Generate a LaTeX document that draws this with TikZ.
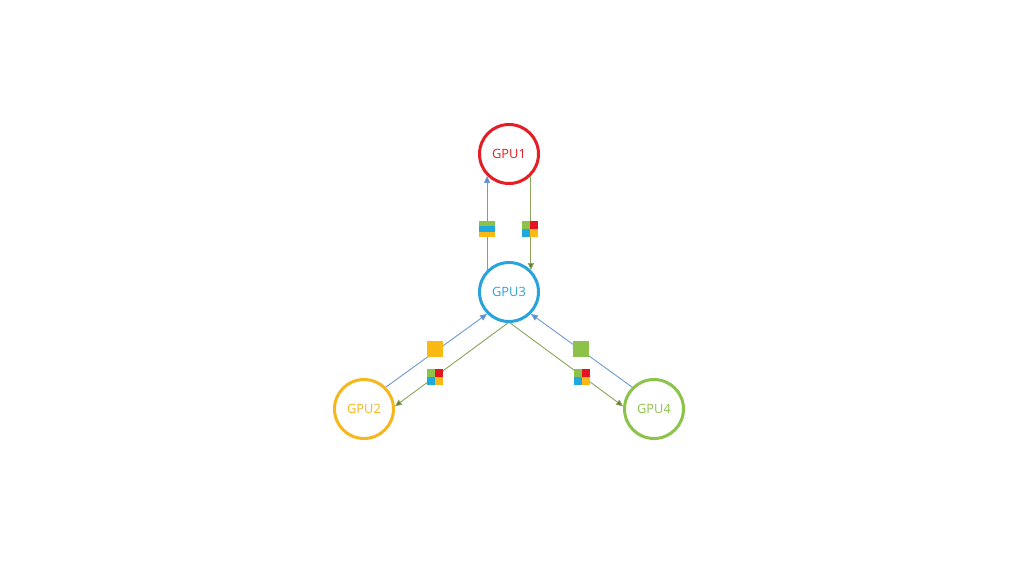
\documentclass[tikz,border=0pt]{standalone}
\usepackage{fontspec}
\setmainfont{Open Sans}
\usetikzlibrary{arrows.meta}
\definecolor{cred}{RGB}{228,30,36}
\definecolor{cblu}{RGB}{41,163,220}
\definecolor{cyel}{RGB}{245,183,30}
\definecolor{cgrn}{RGB}{140,195,75}
\definecolor{lblu}{RGB}{110,155,210}
\definecolor{lolv}{RGB}{140,165,90}
\definecolor{aolv}{RGB}{85,125,45}
\definecolor{ablu}{RGB}{90,140,210}
\definecolor{ig}{RGB}{140,193,74}
\definecolor{ib}{RGB}{30,170,225}
\definecolor{iy}{RGB}{250,185,20}
\definecolor{ir}{RGB}{230,20,30}
\tikzset{
  gpu/.style={circle, draw=#1, line width=3pt, minimum size=59pt, inner sep=0pt,
    text=#1, font=\fontsize{12.8}{15}\selectfont},
  up/.style={draw=lblu, line width=0.9pt, -{Triangle[length=7pt,width=6pt,fill=ablu]}},
  down/.style={draw=lolv, line width=0.9pt, -{Triangle[length=7pt,width=6pt,fill=aolv]}},
  icon/.style={rectangle, minimum size=16pt, inner sep=0pt},
  solid icon/.style={icon, fill=#1},
  quad/.style={icon, path picture={
    \fill[ig] (path picture bounding box.north west) rectangle (path picture bounding box.center);
    \fill[ir] (path picture bounding box.north east) rectangle (path picture bounding box.center);
    \fill[ib] (path picture bounding box.south west) rectangle (path picture bounding box.center);
    \fill[iy] (path picture bounding box.south east) rectangle (path picture bounding box.center);}},
  stripes/.style={icon, path picture={
    \fill[ig] (path picture bounding box.north west) rectangle ([yshift=-5.333pt]path picture bounding box.north east);
    \fill[ib] ([yshift=-5.333pt]path picture bounding box.north west) rectangle ([yshift=5.333pt]path picture bounding box.south east);
    \fill[iy] ([yshift=5.333pt]path picture bounding box.south west) rectangle (path picture bounding box.south east);}}
}
\begin{document}
\begin{tikzpicture}[x=1pt,y=-1pt]
\path[use as bounding box, fill=white] (0,0) rectangle (1024,576);
\node[gpu=cred] (g1) at (509,154) {GPU1};
\node[gpu=cblu] (g3) at (509,292) {GPU3};
\node[gpu=cyel] (g2) at (364,409) {GPU2};
\node[gpu=cgrn] (g4) at (654,409) {GPU4};
\draw[up] (g3.135) -- (g1.225);
\draw[down] (g1.-45) -- (g3.45);
\draw[up] (g2.45) -- (g3.-135);
\draw[down] (g3.-92) -- (g2.5);
\draw[up] (g4.135) -- (g3.-45);
\draw[down] (g3.-88) -- (g4.175);
\node[stripes] (s1) at (487,229) {};
\node[quad] (q1) at (530,229) {};
\node[solid icon=iy] (s2) at (435,349) {};
\node[quad] (q2) at (435,377) {};
\node[solid icon=ig] (s4) at (581,349) {};
\node[quad] (q4) at (582,377) {};
\end{tikzpicture}
\end{document}
